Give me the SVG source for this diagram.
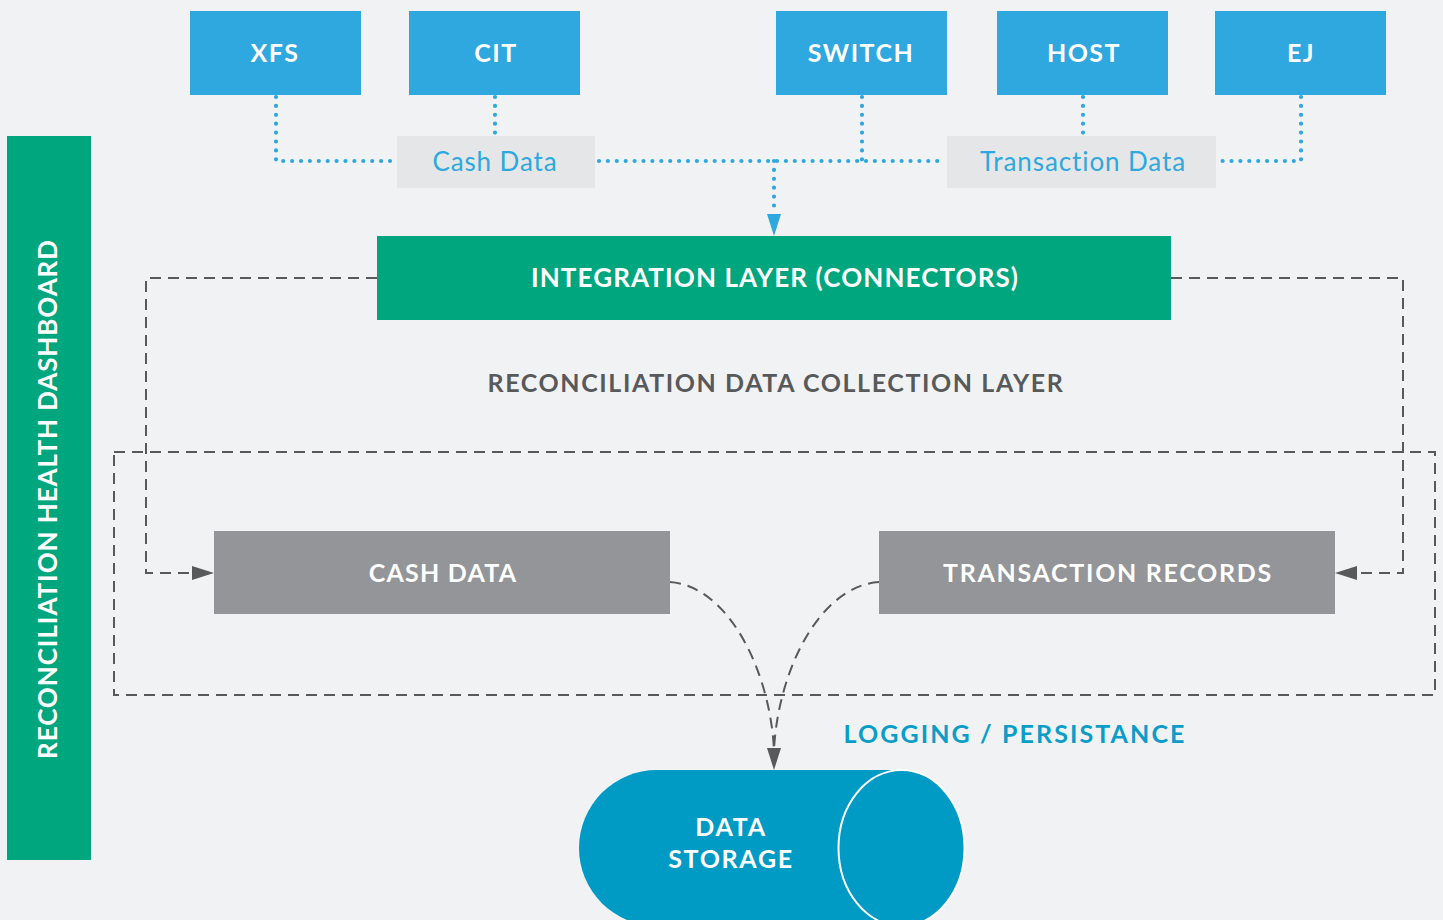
<svg xmlns="http://www.w3.org/2000/svg" width="1443" height="920" viewBox="0 0 1443 920">
<defs>
<style>
.src{fill:#2ea8de}
.lbl{fill:#e4e6e8}
.t{font-family:Lato,"Open Sans",sans-serif;font-weight:bold;fill:#fff;text-anchor:middle}
.dot{fill:none;stroke:#2ea8de;stroke-width:4.2;stroke-linecap:round;stroke-dasharray:0 8.9}
.dash{fill:none;stroke:#58595b;stroke-width:2;stroke-dasharray:11 7}
</style>
</defs>
<rect width="1443" height="920" fill="#f1f2f4"/>

<g id="connectors">
<path class="dot" d="M276,97 V161 H396"/>
<path class="dot" d="M495,97 V134"/>
<path class="dot" d="M599,161 H945"/>
<path class="dot" d="M862,97 V161"/>
<path class="dot" d="M1083,97 V134"/>
<path class="dot" d="M1301,97 V161 H1219"/>
<path class="dot" d="M774,161 V214"/>
<path d="M767,214 L774,236 L781,214 Z" fill="#2ea8de"/>
<path class="dash" d="M377,278 H146 V573 H192"/>
<path d="M192,566 L214,573 L192,580 Z" fill="#58595b"/>
<path class="dash" d="M1171,278 H1403 V573 H1357"/>
<path d="M1357,566 L1335,573 L1357,580 Z" fill="#58595b"/>
<rect class="dash" x="114" y="452" width="1321" height="243"/>
<path class="dash" d="M670,582 C728,586 770,670 774,750"/>
<path class="dash" d="M879,582 C820,586 778,670 774,750"/>
<path d="M767,748 L774,770 L781,748 Z" fill="#58595b"/>
</g>

<g id="dashboard">
<rect x="7" y="136" width="84" height="724" fill="#00a67e"/>
<text class="t" transform="translate(57,499) rotate(-90)" font-size="26" letter-spacing="0.9">RECONCILIATION HEALTH DASHBOARD</text>
</g>

<g id="xfs"><rect class="src" x="190" y="11" width="171" height="84"/><text class="t" x="275" y="62" font-size="25" letter-spacing="1.5">XFS</text></g>
<g id="cit"><rect class="src" x="409" y="11" width="171" height="84"/><text class="t" x="496" y="62" font-size="25" letter-spacing="1.5">CIT</text></g>
<g id="switch"><rect class="src" x="776" y="11" width="171" height="84"/><text class="t" x="861" y="62" font-size="25" letter-spacing="1.5">SWITCH</text></g>
<g id="host"><rect class="src" x="997" y="11" width="171" height="84"/><text class="t" x="1084" y="62" font-size="25" letter-spacing="1.5">HOST</text></g>
<g id="ej"><rect class="src" x="1215" y="11" width="171" height="84"/><text class="t" x="1301" y="62" font-size="25" letter-spacing="1.5">EJ</text></g>

<g id="cash-data-label"><rect class="lbl" x="397" y="136" width="198" height="52"/><text x="495" y="171" font-family="Lato,'Open Sans',sans-serif" font-size="26" fill="#2ea8de" text-anchor="middle" letter-spacing="0.9">Cash Data</text></g>
<g id="transaction-data-label"><rect class="lbl" x="947" y="136" width="269" height="52"/><text x="1083" y="171" font-family="Lato,'Open Sans',sans-serif" font-size="26" fill="#2ea8de" text-anchor="middle" letter-spacing="0.9">Transaction Data</text></g>

<g id="integration"><rect x="377" y="236" width="794" height="84" fill="#00a67e"/><text class="t" x="775" y="287" font-size="26" letter-spacing="1.1">INTEGRATION LAYER (CONNECTORS)</text></g>

<g id="collection-layer"><text x="776" y="392" font-family="Lato,'Open Sans',sans-serif" font-weight="bold" font-size="25" fill="#58595b" text-anchor="middle" letter-spacing="1.6">RECONCILIATION DATA COLLECTION LAYER</text></g>

<g id="cash-data"><rect x="214" y="531" width="456" height="83" fill="#939598"/><text class="t" x="443" y="582" font-size="25" letter-spacing="1.2">CASH DATA</text></g>
<g id="transaction-records"><rect x="879" y="531" width="456" height="83" fill="#939598"/><text class="t" x="1108" y="582" font-size="25" letter-spacing="1.7">TRANSACTION RECORDS</text></g>

<g id="logging"><text x="1015" y="743" font-family="Lato,'Open Sans',sans-serif" font-weight="bold" font-size="25" fill="#0a9dc8" text-anchor="middle" letter-spacing="2.1">LOGGING / PERSISTANCE</text></g>

<g id="data-storage">
<path d="M657,770 H901.5 A63.5,78 0 0 1 901.5,926 H657 A78,78 0 0 1 657,770 Z" fill="#009bc4"/>
<ellipse cx="901.5" cy="848" rx="63" ry="78" fill="#009bc4" stroke="#fff" stroke-width="2"/>
<text class="t" x="731" y="836" font-size="25" letter-spacing="1.7">DATA</text>
<text class="t" x="731" y="868" font-size="25" letter-spacing="1.7">STORAGE</text>
</g>
</svg>
